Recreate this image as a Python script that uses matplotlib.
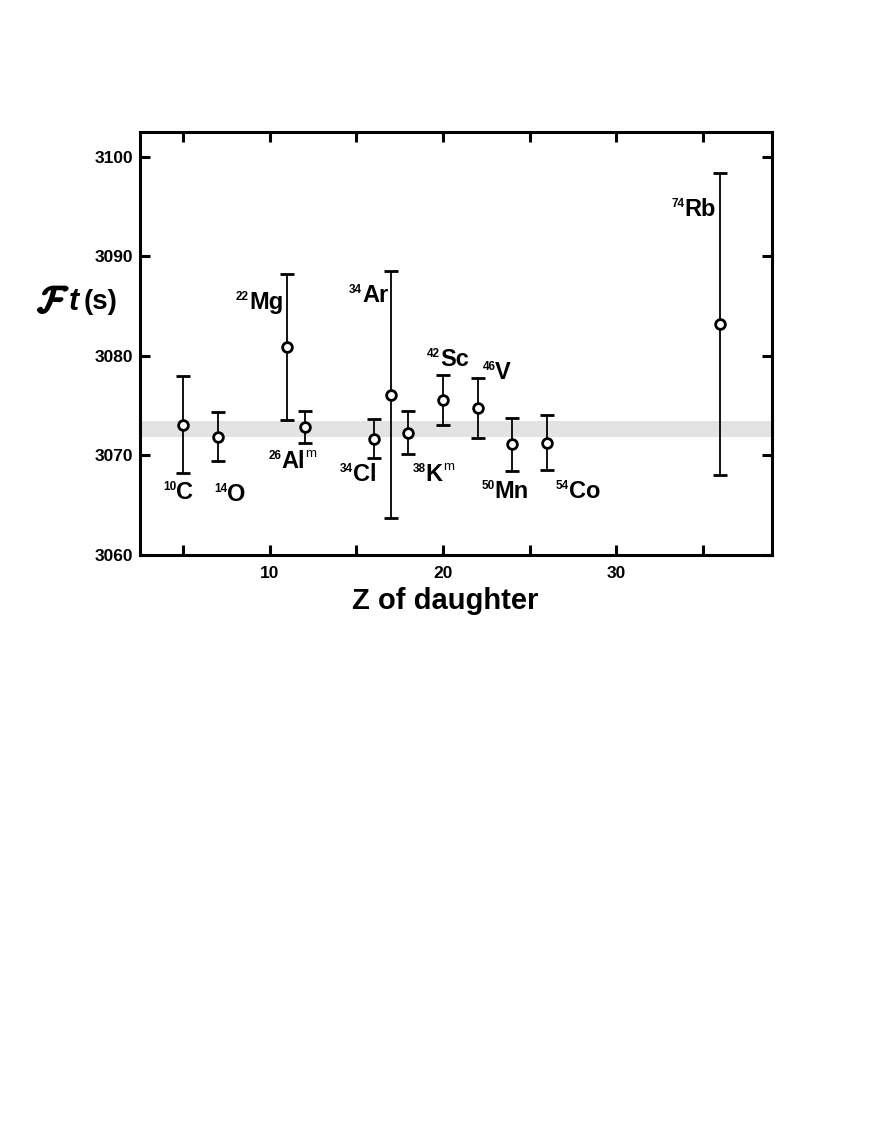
import numpy as np
import matplotlib
matplotlib.use("Agg")
import matplotlib.pyplot as plt
import matplotlib.patheffects as pe
from matplotlib.offsetbox import TextArea, HPacker, AnnotationBbox

plt.rcParams['font.family'] = ['Liberation Sans', 'DejaVu Sans']
plt.rcParams['font.weight'] = 'bold'

# data: Z of daughter, Ft value, error
nuclides = ['10C', '14O', '22Mg', '26Alm', '34Cl', '34Ar', '38Km', '42Sc', '46V', '50Mn', '54Co', '74Rb']
z_daughter = [5, 7, 11, 12, 16, 17, 18, 20, 22, 24, 26, 36]
ft_values = [3073.1, 3071.9, 3080.9, 3072.9, 3071.7, 3076.1, 3072.3, 3075.6, 3074.8, 3071.1, 3071.3, 3083.2]
ft_errors = [4.9, 2.5, 7.3, 1.6, 2.0, 12.4, 2.2, 2.5, 3.0, 2.7, 2.8, 15.2]

ft_mean = 3072.7
ft_mean_err = 0.8

# label pieces: mass number, symbol, isomer mark
mass_nums = ['10', '14', '22', '26', '34', '34', '38', '42', '46', '50', '54', '74']
symbols = ['C', 'O', 'Mg', 'Al', 'Cl', 'Ar', 'K', 'Sc', 'V', 'Mn', 'Co', 'Rb']
isomer = ['', '', '', 'm', '', '', 'm', '', '', '', '', '']
label_x = [4.7, 7.7, 9.4, 10.95, 15.1, 15.7, 19.1, 20.3, 23.1, 23.6, 27.8, 34.45]
label_y = [3066.3, 3066.1, 3085.4, 3069.4, 3068.1, 3086.1, 3068.1, 3079.6, 3078.3, 3066.4, 3066.4, 3094.7]

fig = plt.figure(figsize=(8.72, 11.28), dpi=100)
ax = fig.add_axes([0.1606, 0.508, 0.7247, 0.375])

ax.axhspan(ft_mean - ft_mean_err, ft_mean + ft_mean_err, color='#e3e3e3', lw=0, zorder=0)
ax.errorbar(z_daughter, ft_values, yerr=ft_errors, fmt='o', color='black', ecolor='black',
            elinewidth=1.3, capsize=5, capthick=1.3, ms=7, mfc='white', mec='black', mew=2, zorder=3)


def nuclide_label(a, sym, iso, x, y):
    parts = [TextArea(a, textprops=dict(fontsize=8.5, fontweight='bold')),
             TextArea(sym, textprops=dict(fontsize=17, fontweight='bold'))]
    box = HPacker(children=parts, align='top', pad=0, sep=0)
    ab = AnnotationBbox(box, (x, y), frameon=False, box_alignment=(0.5, 0.5), pad=0)
    ax.add_artist(ab)
    if iso:
        ax.annotate(iso, xy=(1, 1), xycoords=ab, xytext=(0.5, 1.5), textcoords='offset points',
                    ha='left', va='top', fontsize=9.5, fontweight='normal')


for a, sym, iso, lx, ly in zip(mass_nums, symbols, isomer, label_x, label_y):
    nuclide_label(a, sym, iso, lx, ly)

ax.set_xlim(2.5, 39)
ax.set_ylim(3060, 3102.5)
ax.set_xticks([10, 20, 30])
ax.set_xticks([5, 15, 25, 35], minor=True)
ax.set_yticks([3060, 3070, 3080, 3090, 3100])
for s in ax.spines.values():
    s.set_linewidth(2.2)
ax.tick_params(which='both', direction='in', top=True, right=True, width=2.2, length=7, labelsize=12.5)
ax.tick_params(axis='y', pad=5)
ax.tick_params(axis='x', pad=8)
for t in ax.get_xticklabels() + ax.get_yticklabels():
    t.set_fontweight('bold')

ax.set_xlabel('Z of daughter', fontsize=21, fontweight='bold', labelpad=4, x=0.483)

# y label: script F, italic t, (s)
fig.text(0.043, 0.732, r'$\mathcal{F}$', fontsize=26, math_fontfamily='cm', va='center', ha='left',
         path_effects=[pe.withStroke(linewidth=1.8, foreground='black')])
fig.text(0.079, 0.732, 't', fontsize=22, fontstyle='italic', fontweight='bold', va='center', ha='left')
fig.text(0.096, 0.732, '(s)', fontsize=20, fontweight='bold', va='center', ha='left')

fig.savefig('out.png', dpi=100)
